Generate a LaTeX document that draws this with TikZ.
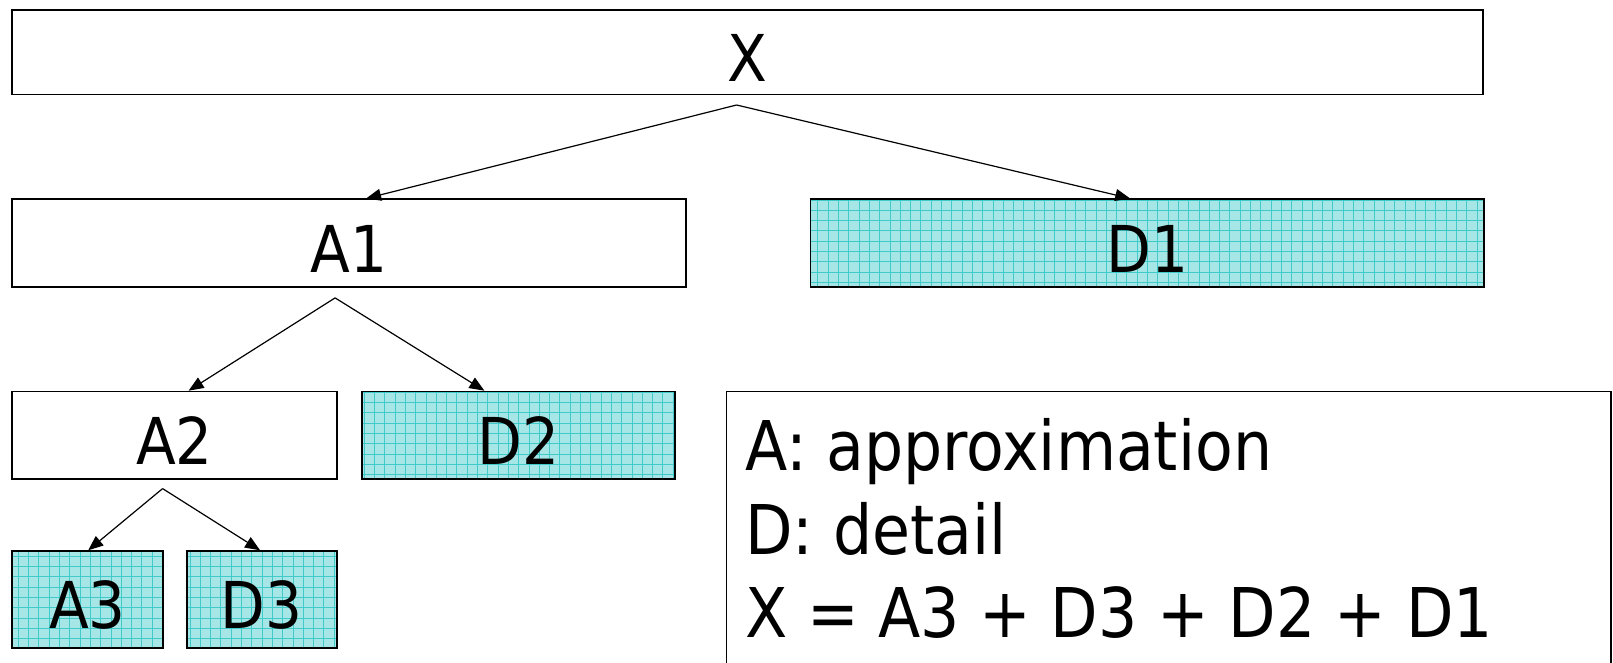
\documentclass[tikz,border=0pt]{standalone}
\usepackage{fontspec}
\setmainfont{DejaVu Sans Condensed}
\usetikzlibrary{arrows.meta,calc}

\definecolor{cellbase}{RGB}{166,230,230}
\definecolor{cellline}{RGB}{64,202,202}

\begin{document}
\begin{tikzpicture}[x=0.5pt,y=-0.5pt,
  box/.style={draw=black,line width=0.9pt,inner sep=0pt,anchor=north west,
    text height=29pt,text depth=0pt,
    font=\fontsize{32.3}{38}\selectfont},
  coef/.style={box,
    path picture={
      \fill[cellbase] (path picture bounding box.south west) rectangle (path picture bounding box.north east);
      \draw[cellline,line width=0.5pt] (path picture bounding box.south west) grid[step=5.15pt] (path picture bounding box.north east);
    }},
  link/.style={line width=0.6pt,-{Triangle[length=7.5pt,width=6pt]}},
  legtext/.style={anchor=base west,inner sep=0pt,font=\fontsize{34.3}{41.7}\selectfont}]

\useasboundingbox (0,0) rectangle (1613,663);

% decomposition tree
\node[box,minimum width=735.4pt,minimum height=42.2pt] (X)  at (11.3,9.3)   {X};
\node[box,minimum width=336.9pt,minimum height=43.8pt] (A1) at (11.3,198.5) {A1};
\node[coef,minimum width=336.7pt,minimum height=43.8pt] (D1) at (809.6,198.5) {D1};
\node[box,minimum width=162.4pt,minimum height=43.7pt] (A2) at (11.3,390.7) {A2};
\node[coef,minimum width=156.5pt,minimum height=43.7pt] (D2) at (361,390.7) {D2};
\node[coef,minimum width=75.4pt,minimum height=48.2pt] (A3) at (11.3,550.3) {A3};
\node[coef,minimum width=75.2pt,minimum height=48.2pt] (D3) at (185.7,550.3) {D3};

% split points just under each parent
\coordinate (sX)  at ($(X.south)+(-11,9.5)$);
\coordinate (sA1) at ($(A1.south)+(-14,10)$);
\coordinate (sA2) at ($(A2.south)+(-12,8.7)$);

\draw[link] (sX) -- ($(A1.north)+(17,0)$);
\draw[link] (sX) -- ($(D1.north)+(-17,0)$);
\draw[link] (sA1) -- ($(A2.north)+(14,0)$);
\draw[link] (sA1) -- ($(D2.north)+(-34,0)$);
\draw[link] (sA2) -- ($(A3.north)+(0.6,0)$);
\draw[link] (sA2) -- ($(D3.north)+(-1.7,0)$);

% legend
\node[draw=black,line width=0.9pt,inner sep=0pt,anchor=north west,
  minimum width=442.3pt,minimum height=150pt] (legend) at (725.5,390.7) {};
\node[legtext] (leg1) at (745,470.7) {A: approximation};
\node[legtext] (leg2) at (745,554)   {D: detail};
\node[legtext] (leg3) at (745,637.3) {X = A3 + D3 + D2 + D1};

\end{tikzpicture}
\end{document}
